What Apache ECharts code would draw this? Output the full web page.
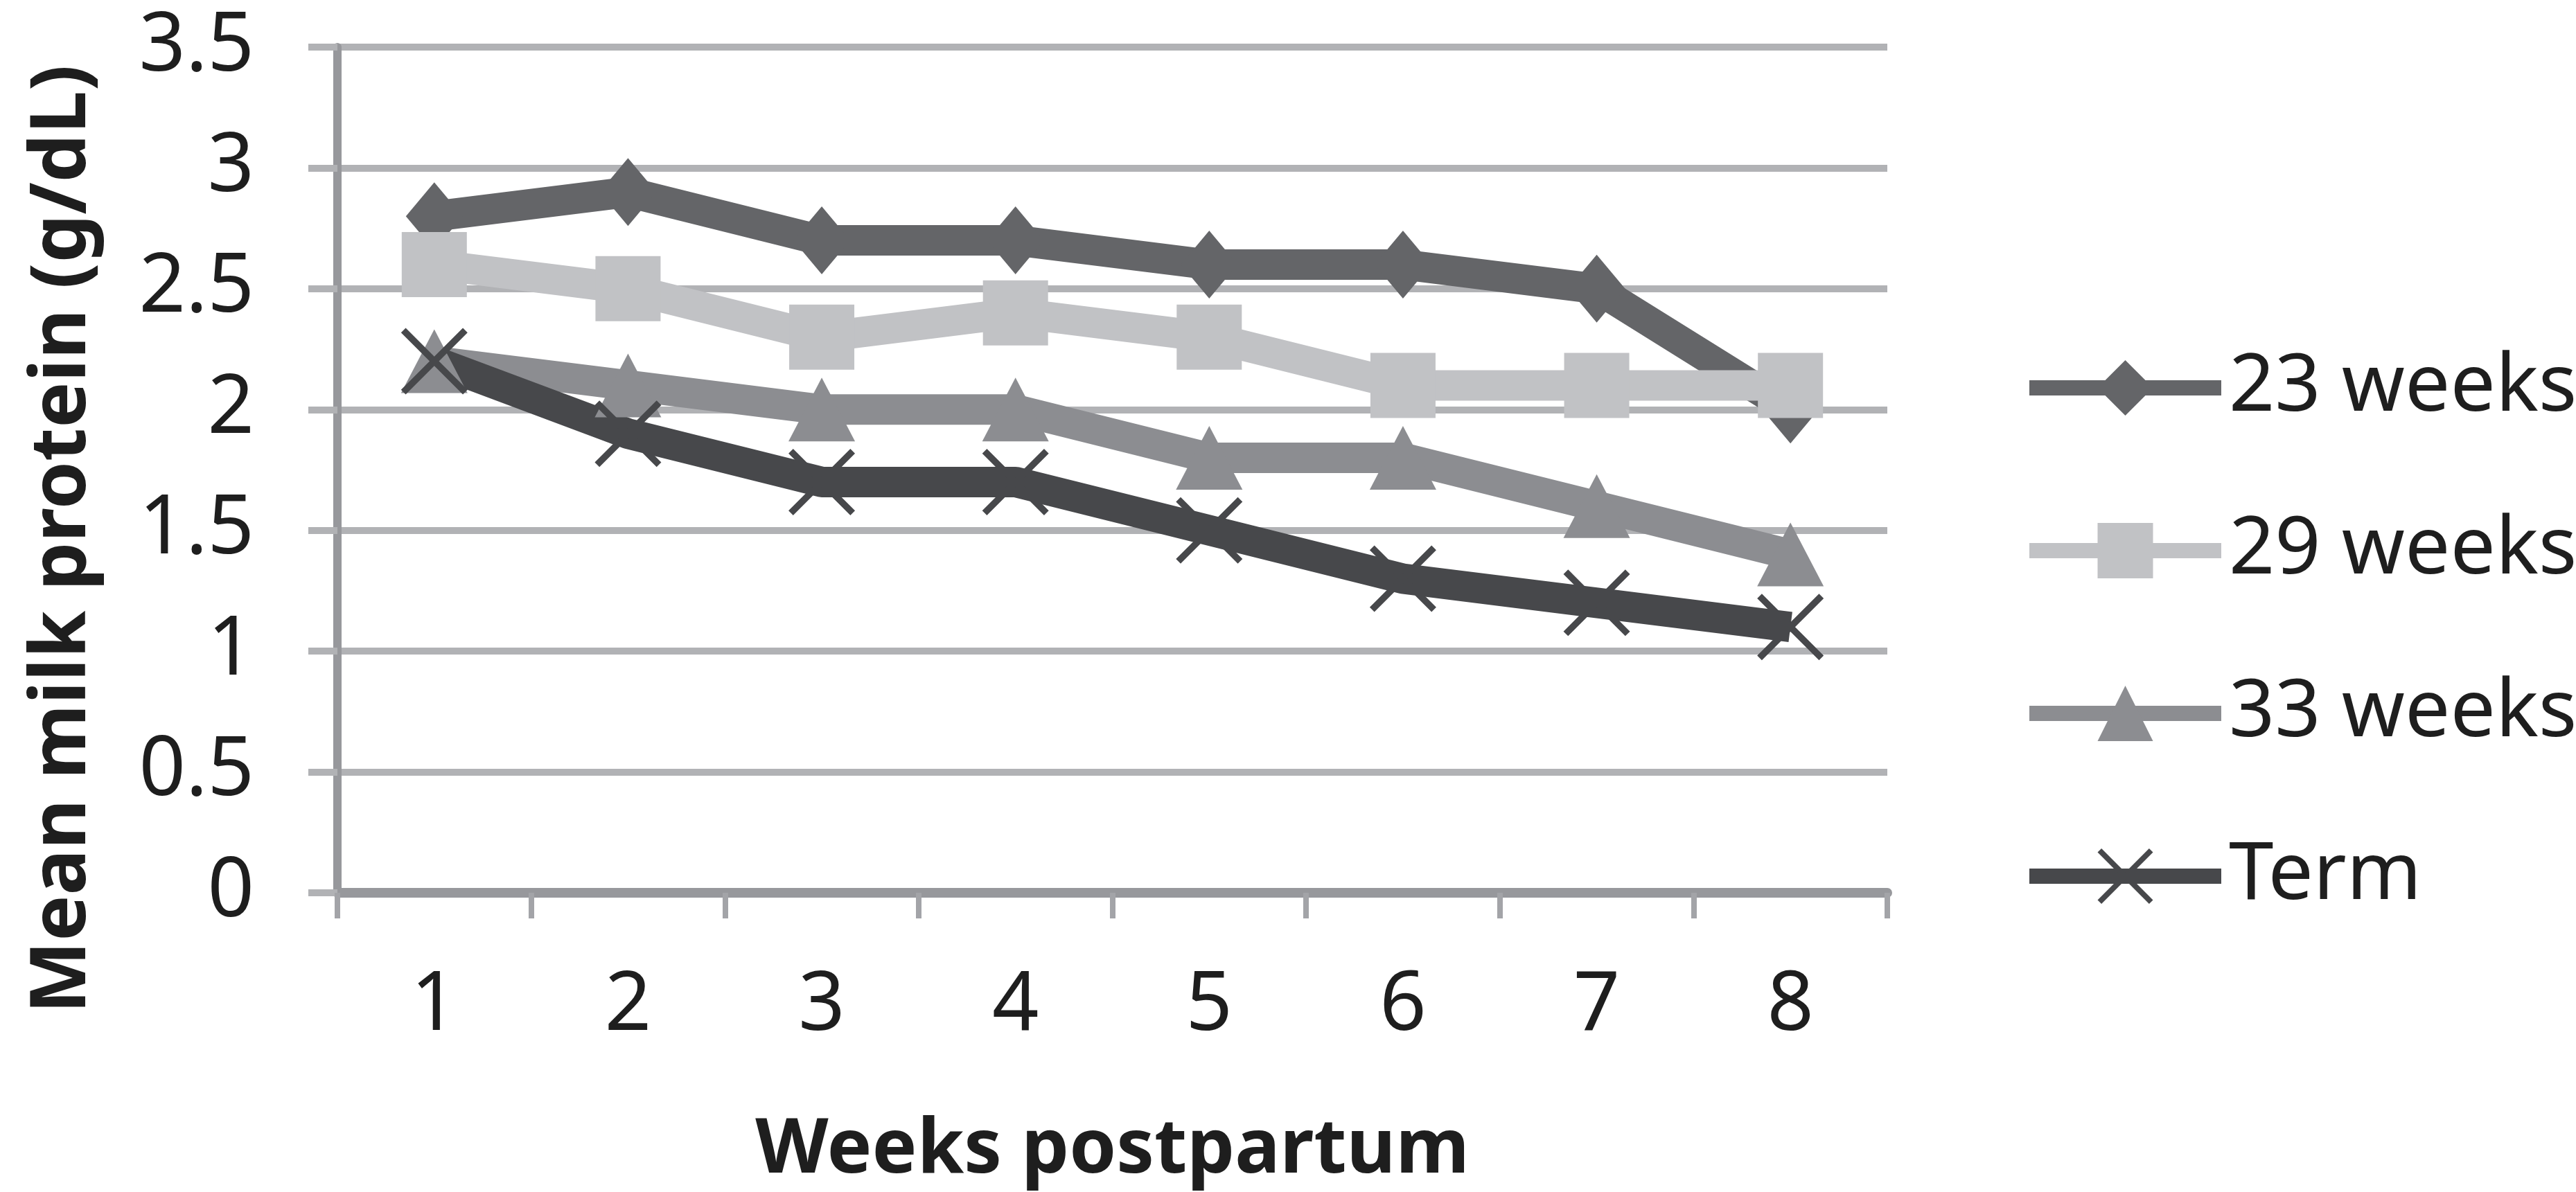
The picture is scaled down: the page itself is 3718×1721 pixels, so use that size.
<!DOCTYPE html>
<html>
<head>
<meta charset="utf-8">
<title>Mean milk protein</title>
<script src="https://cdn.jsdelivr.net/npm/echarts@6/dist/echarts.min.js"></script>
<style>
  html, body { margin: 0; padding: 0; background: #fff; }
</style>
</head>
<body>
<!-- chart container -->
<div id="container" style="width: 3718px; height: 1721px"></div>

<script>
// data
const weeks = ['1', '2', '3', '4', '5', '6', '7', '8']
const seriesNames = ['23 weeks', '29 weeks', '33 weeks', 'Term']
const protein23 = [2.8, 2.9, 2.7, 2.7, 2.6, 2.6, 2.5, 2.0]
const protein29 = [2.6, 2.5, 2.3, 2.4, 2.3, 2.1, 2.1, 2.1]
const protein33 = [2.2, 2.1, 2.0, 2.0, 1.8, 1.8, 1.6, 1.4]
const proteinTerm = [2.2, 1.9, 1.7, 1.7, 1.5, 1.3, 1.2, 1.1]

// thin "x" marker
const crossPath = 'path://M0,7L7,0L50,43L93,0L100,7L57,50L100,93L93,100L50,57L7,100L0,93L43,50Z'

const colors = ['#646568', '#c1c2c5', '#8c8d91', '#47484b']
const symbols = ['diamond', 'rect', 'triangle', crossPath]
const symbolSizes = [[82, 98], 94, [96, 92], 96]
const values = [protein23, protein29, protein33, proteinTerm]

const fontFamily = '"Noto Sans", "Open Sans", sans-serif'

var myChart = echarts.init(document.getElementById('container'))

const option = {
  backgroundColor: '#ffffff',
  animation: false,
  grid: {
    left: 487,
    right: 994,
    top: 68,
    bottom: 431
  },
  legend: {
    orient: 'vertical',
    left: 2913,
    top: 497,
    itemWidth: 277,
    itemHeight: 100,
    itemGap: 119,
    data: seriesNames,
    lineStyle: { width: 22 },
    textStyle: {
      fontFamily: fontFamily,
      fontSize: 116,
      color: '#1e1e1e',
      padding: [0, 0, 0, 6]
    }
  },
  xAxis: {
    type: 'category',
    data: weeks,
    boundaryGap: true,
    name: 'Weeks postpartum',
    nameLocation: 'middle',
    nameGap: 318,
    nameTextStyle: {
      fontFamily: fontFamily,
      fontSize: 109,
      fontWeight: 'bold',
      color: '#1e1e1e'
    },
    axisLine: { lineStyle: { color: '#97989c', width: 14 } },
    axisTick: {
      show: true,
      alignWithLabel: false,
      length: 37,
      lineStyle: { color: '#a3a4a8', width: 8 }
    },
    axisLabel: {
      margin: 105,
      fontFamily: fontFamily,
      fontSize: 118,
      color: '#1e1e1e'
    },
    splitLine: { show: false }
  },
  yAxis: {
    type: 'value',
    min: 0,
    max: 3.5,
    interval: 0.5,
    name: 'Mean milk protein (g/dL)',
    nameLocation: 'middle',
    nameGap: 340,
    nameRotate: 90,
    nameTextStyle: {
      fontFamily: fontFamily,
      fontSize: 111,
      fontWeight: 'bold',
      color: '#1e1e1e',
      padding: [0, 200, 0, 0]
    },
    axisLine: { show: true, lineStyle: { color: '#97989c', width: 12 } },
    axisTick: {
      show: true,
      length: 42,
      lineStyle: { color: '#b1b2b5', width: 10 }
    },
    axisLabel: {
      margin: 120,
      fontFamily: fontFamily,
      fontSize: 118,
      color: '#1e1e1e'
    },
    splitLine: { show: true, lineStyle: { color: '#b1b2b5', width: 10 } }
  },
  series: seriesNames.map((name, i) => ({
    name: name,
    type: 'line',
    data: values[i],
    symbol: symbols[i],
    symbolSize: symbolSizes[i],
    showAllSymbol: true,
    lineStyle: { color: colors[i], width: 44 },
    itemStyle: { color: colors[i], opacity: 1 },
    emphasis: { disabled: true }
  }))
}

myChart.setOption(option)
</script>
</body>
</html>
